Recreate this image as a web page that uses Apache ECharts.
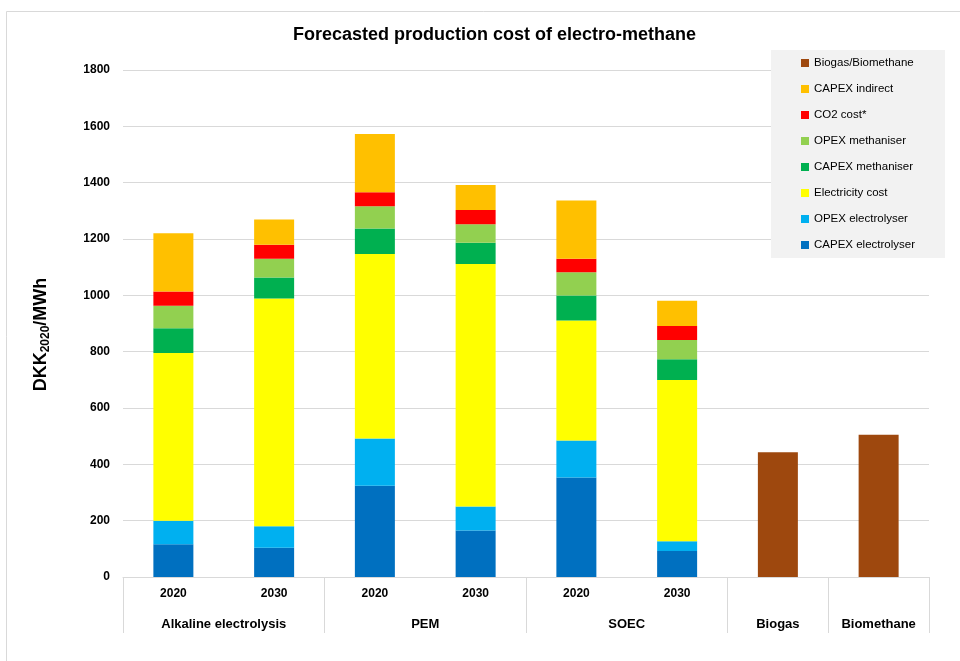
<!DOCTYPE html>
<html>
<head>
<meta charset="utf-8">
<script src="https://cdn.jsdelivr.net/npm/echarts@6/dist/echarts.min.js"></script>
<style>
  html, body { margin: 0; padding: 0; background: #fff; }
  #main { width: 960px; height: 661px; }
</style>
</head>
<body>
<div id="main"></div>
<script>
// x axis labels
var years = ['2020', '2030', '2020', '2030', '2020', '2030', '', ''];
var groupNames = ['Alkaline electrolysis', 'PEM', 'SOEC', 'Biogas', 'Biomethane'];
var groupSpans = [2, 2, 2, 1, 1];
var yTicks = { min: 0, max: 1800, step: 200 };

// cost components, DKK2020/MWh
var capexElectrolyser = [116, 104, 324, 165, 353, 92, null, null];
var opexElectrolyser  = [84, 76, 168, 85, 132, 35, null, null];
var electricityCost   = [595, 809, 655, 861, 426, 572, null, null];
var capexMethaniser   = [88, 74, 90, 76, 88, 74, null, null];
var opexMethaniser    = [80, 67, 79, 65, 83, 68, null, null];
var co2Cost           = [51, 50, 50, 51, 48, 50, null, null];
var capexIndirect     = [206, 89, 207, 89, 207, 90, null, null];
var biogasBiomethane  = [null, null, null, null, null, null, 443, 505];

var FONT = '"Liberation Sans", Arial, sans-serif';

// group boundaries and centres on the second (value) x axis
var bounds = [0], centres = [];
var acc = 0;
for (var i = 0; i < groupSpans.length; i++) {
  centres.push(acc + groupSpans[i] / 2);
  acc += groupSpans[i];
  bounds.push(acc);
}

var chart = echarts.init(document.getElementById('main'));

function bar(name, data, color) {
  return {
    name: name,
    type: 'bar',
    stack: 'cost',
    xAxisIndex: 0,
    barWidth: 40,
    data: data,
    itemStyle: { color: color },
    emphasis: { disabled: true }
  };
}

var option = {
  backgroundColor: '#fff',
  animation: false,
  textStyle: { fontFamily: FONT },
  title: {
    text: 'Forecasted production cost of electro-methane',
    left: 288,
    top: 21,
    textStyle: { fontFamily: FONT, fontSize: 18, fontWeight: 'bold', color: '#000' }
  },
  graphic: [{
    type: 'rect',
    shape: { x: 6.5, y: 11.5, width: 1000, height: 700 },
    style: { fill: 'none', stroke: '#d9d9d9', lineWidth: 1 },
    silent: true
  }],
  legend: {
    orient: 'vertical',
    left: 771,
    top: 50,
    padding: [6, 30, 6, 30],
    backgroundColor: '#f2f2f2',
    icon: 'rect',
    itemWidth: 8,
    itemHeight: 8,
    itemGap: 12,
    textStyle: { fontFamily: FONT, fontSize: 11.5, color: '#000', lineHeight: 14 },
    data: ['Biogas/Biomethane', 'CAPEX indirect', 'CO2 cost*', 'OPEX methaniser',
           'CAPEX methaniser', 'Electricity cost', 'OPEX electrolyser', 'CAPEX electrolyser']
  },
  grid: { left: 123, right: 31, top: 70, bottom: 84 },
  xAxis: [{
    type: 'category',
    data: years,
    position: 'bottom',
    axisLine: { lineStyle: { color: '#d9d9d9' } },
    axisTick: { show: false },
    axisLabel: { margin: 11, fontSize: 12, fontWeight: 'bold', color: '#000', fontFamily: FONT }
  }, {
    type: 'value',
    min: 0,
    max: acc,
    position: 'bottom',
    splitLine: { show: false },
    axisLine: { show: false },
    axisTick: {
      show: true,
      customValues: bounds,
      length: 56,
      lineStyle: { color: '#d9d9d9' }
    },
    axisLabel: {
      customValues: centres,
      margin: 41,
      fontSize: 13,
      fontWeight: 'bold',
      color: '#000',
      fontFamily: FONT,
      formatter: function (v) {
        var k = centres.indexOf(v);
        return k >= 0 ? groupNames[k] : '';
      }
    }
  }],
  yAxis: {
    type: 'value',
    min: yTicks.min,
    max: yTicks.max,
    interval: yTicks.step,
    name: '{a|DKK}{b|2020}{a|/MWh}',
    nameLocation: 'middle',
    nameGap: 71,
    nameTextStyle: {
      padding: [0, 22, 0, 0],
      rich: {
        a: { fontFamily: FONT, fontSize: 18, fontWeight: 'bold', color: '#000', lineHeight: 22, verticalAlign: 'middle' },
        b: { fontFamily: FONT, fontSize: 12, fontWeight: 'bold', color: '#000', lineHeight: 12, verticalAlign: 'bottom' }
      }
    },
    axisLine: { show: false },
    axisTick: { show: false },
    axisLabel: {
      margin: 13, fontSize: 12, fontWeight: 'bold', color: '#000', fontFamily: FONT,
      formatter: function (v) { return String(v); }
    },
    splitLine: { lineStyle: { color: '#d9d9d9' } }
  },
  series: [
    bar('CAPEX electrolyser', capexElectrolyser, '#0070C0'),
    bar('OPEX electrolyser', opexElectrolyser, '#00B0F0'),
    bar('Electricity cost', electricityCost, '#FFFF00'),
    bar('CAPEX methaniser', capexMethaniser, '#00B050'),
    bar('OPEX methaniser', opexMethaniser, '#92D050'),
    bar('CO2 cost*', co2Cost, '#FF0000'),
    bar('CAPEX indirect', capexIndirect, '#FFC000'),
    bar('Biogas/Biomethane', biogasBiomethane, '#9E480E')
  ]
};

chart.setOption(option);
</script>
</body>
</html>
